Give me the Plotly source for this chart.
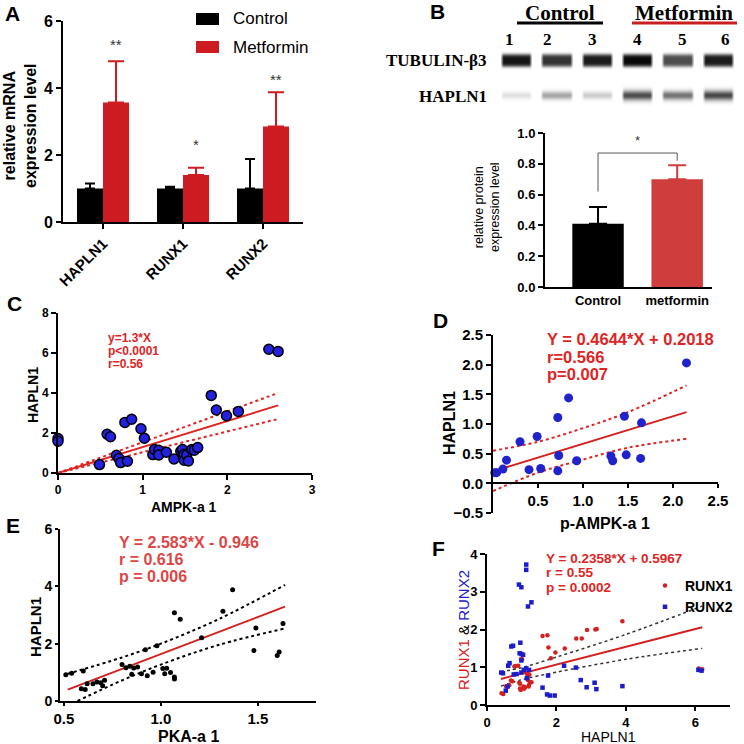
import numpy as np
import plotly.graph_objects as go

W = H = 744
SANS = "Liberation Sans"
SERIF = "Liberation Serif"

# ---- A: mRNA bars ----
genes = ["HAPLN1", "RUNX1", "RUNX2"]
mrna_ctrl = [1.0, 1.0, 1.0]
mrna_ctrl_err = [0.15, 0.05, 0.88]
mrna_met = [3.57, 1.40, 2.85]
mrna_met_err = [1.23, 0.22, 1.02]
stars_a = ["**", "*", "**"]
stars_a_y = [5.3, 2.3, 4.25]

# ---- B: blot + protein bars ----
lanes = [1, 2, 3, 4, 5, 6]
tub_int = [0.92, 0.80, 0.90, 0.97, 0.70, 0.90]
hap_int = [0.12, 0.35, 0.20, 0.70, 0.55, 0.72]
prot_groups = ["Control", "metformin"]
prot = [0.41, 0.70]
prot_err = [0.11, 0.09]

# ---- C: AMPK-a1 vs HAPLN1 ----
ampk = [0.0, 0.0, 0.49, 0.58, 0.62, 0.69, 0.72, 0.74, 0.79, 0.82, 0.87, 0.98, 1.02, 1.12, 1.14, 1.19, 1.19,
        1.28, 1.37, 1.45, 1.47, 1.49, 1.49, 1.52, 1.54, 1.58, 1.61, 1.65, 1.81, 1.87, 1.99, 2.13, 2.49, 2.60]
hapln_c = [1.72, 1.59, 0.42, 1.94, 1.81, 0.89, 0.72, 0.52, 2.53, 0.59, 2.69, 2.21, 1.74, 0.92, 1.17, 1.14, 0.90,
           1.04, 0.70, 1.09, 1.17, 0.94, 0.64, 0.90, 0.60, 1.17, 1.14, 1.27, 3.88, 3.15, 2.86, 3.08, 6.19, 6.08]
fit_c = (1.3, 0.0, 0.0, 2.6)
ci_c_x = [0.0, 2.6]
ci_c_hi = [0.0, 4.0]
ci_c_lo = [0.0, 2.7]

# ---- D: p-AMPK-a1 vs HAPLN1 ----
pampk = [0.02, 0.04, 0.11, 0.15, 0.30, 0.40, 0.49, 0.53, 0.72, 0.73, 0.72, 0.84, 0.93, 1.31, 1.33, 1.46,
         1.48, 1.64, 1.65, 2.15]
hapln_d = [0.18, 0.18, 0.24, 0.39, 0.70, 0.23, 0.79, 0.25, 1.11, 0.47, 0.21, 1.44, 0.38, 0.46, 0.38, 1.13,
           0.48, 0.42, 1.02, 2.03]
fit_d = (0.4644, 0.2018, 0.03, 2.15)
ci_d_x = [0.0, 0.5, 1.0, 1.5, 2.15]
ci_d_hi = [0.55, 0.70, 0.93, 1.20, 1.65]
ci_d_lo = [-0.13, 0.18, 0.40, 0.60, 0.75]

# ---- E: PKA-a1 vs HAPLN1 ----
pka = [0.51, 0.54, 0.60, 0.59, 0.61, 0.62, 0.65, 0.67, 0.69, 0.71, 0.70, 0.80, 0.82, 0.84, 0.86, 0.85, 0.88,
       0.90, 0.92, 0.93, 0.96, 0.98, 1.01, 1.02, 1.03, 1.05, 1.07, 1.07, 1.07, 1.10, 1.21, 1.32, 1.37, 1.48,
       1.49, 1.60, 1.61, 1.63]
hapln_e = [0.92, 0.97, 1.05, 0.43, 0.40, 0.60, 0.60, 0.66, 0.64, 0.72, 0.53, 1.27, 1.16, 1.21, 1.15, 0.93, 1.19,
           0.95, 1.79, 0.88, 1.00, 1.93, 1.13, 0.95, 1.14, 0.99, 0.84, 0.77, 3.08, 2.85, 2.21, 3.13, 3.88, 1.76,
           2.55, 1.59, 1.71, 2.70]
fit_e = (2.583, -0.946, 0.52, 1.64)
ci_e_hi_x = [0.52, 0.8, 1.0, 1.3, 1.64]
ci_e_hi = [0.95, 1.52, 2.0, 2.86, 4.05]
ci_e_lo_x = [0.57, 0.8, 1.0, 1.3, 1.64]
ci_e_lo = [0.0, 0.72, 1.27, 1.96, 2.53]

# ---- F: HAPLN1 vs RUNX1 / RUNX2 ----
hx_r = [0.42, 0.47, 0.55, 0.60, 0.64, 0.69, 0.73, 0.79, 0.82, 0.90, 0.93, 0.95, 0.97, 0.95, 0.98, 1.01, 1.05,
        1.07, 1.10, 1.14, 1.16, 1.18, 1.21, 1.20, 1.24, 1.28, 1.16, 1.22, 1.60, 1.74, 1.77, 1.84, 1.97, 2.24,
        2.57, 2.73, 2.88, 3.12, 3.16, 3.90, 6.10, 6.20]
runx1 = [0.31, 0.29, 0.50, 0.49, 0.52, 0.65, 0.63, 1.02, 1.03, 1.04, 0.59, 0.44, 0.40, 0.56, 1.21, 1.21, 0.49,
         0.43, 0.47, 0.84, 0.75, 0.66, 0.53, 0.49, 0.60, 0.60, 0.84, 0.80, 1.83, 1.85, 1.52, 1.24, 1.39, 1.50,
         1.76, 1.76, 1.99, 2.00, 2.01, 2.22, 0.97, 0.95]
hx_b = [0.41, 0.46, 0.54, 0.59, 0.61, 0.65, 0.70, 0.75, 0.77, 0.85, 0.92, 0.99, 0.96, 0.94, 0.99, 1.04, 0.99,
        0.99, 1.06, 1.13, 1.13, 1.15, 1.18, 1.28, 1.13, 1.21, 1.60, 1.73, 1.76, 1.81, 1.95, 2.22, 2.56, 2.70,
        2.87, 3.10, 3.15, 3.90, 6.09, 6.18]
runx2 = [0.86, 0.84, 0.38, 0.49, 1.04, 1.11, 1.55, 1.57, 0.81, 0.82, 3.19, 3.12, 1.65, 1.37, 1.35, 1.33, 1.18,
         0.86, 0.93, 3.72, 3.58, 0.71, 2.61, 2.72, 0.97, 0.93, 0.46, 0.28, 0.78, 0.25, 0.25, 1.04, 0.99, 0.66,
         0.47, 0.59, 0.42, 0.50, 0.93, 0.91]
fit_f = (0.2358, 0.5967, 0.4, 6.2)
ci_f_x = [0.4, 1.0, 2.0, 4.0, 6.2]
ci_f_hi = [0.88, 0.99, 1.27, 1.87, 2.62]
ci_f_lo = [0.50, 0.67, 0.87, 1.21, 1.50]

RED_A = "#cc1c22"
RED_B = "#cf3d3d"
RED_T = "#e02424"
BLUE = "#2420e0"


def dx(a, b):
    return [a / W, b / W]


def dy(top, bottom):
    return [1 - bottom / H, 1 - top / H]


def axis(domain, rng, size=13, **kw):
    d = dict(domain=domain, range=rng, showline=True, linecolor="black", linewidth=2,
             ticks="outside", ticklen=5, tickwidth=2, tickcolor="black", showgrid=False,
             zeroline=False, automargin=False,
             tickfont=dict(family=SANS, size=size, color="black", weight="bold"))
    d.update(kw)
    return d


fig = go.Figure()


def note(text, x, y, size, color="black", bold=True, anchor="center", family=SANS, angle=0):
    fig.add_annotation(text=text, x=x / W, y=1 - y / H, xref="paper", yref="paper", showarrow=False,
                       xanchor=anchor, yanchor="middle", textangle=angle, borderpad=0,
                       font=dict(family=family, size=size, color=color, weight="bold" if bold else "normal"))


def fit_line(fit, xa, ya, color, width=2):
    a, b, lo, hi = fit
    fig.add_trace(go.Scatter(x=[lo, hi], y=[a * lo + b, a * hi + b], mode="lines",
                             line=dict(color=color, width=width), xaxis=xa, yaxis=ya,
                             showlegend=False, hoverinfo="skip"))


def ci_line(xs, ys, xa, ya, color, width=2):
    fig.add_trace(go.Scatter(x=xs, y=ys, mode="lines", line=dict(color=color, width=width, dash="dot",
                             shape="spline"), xaxis=xa, yaxis=ya, showlegend=False, hoverinfo="skip"))


# A
fig.add_trace(go.Bar(x=genes, y=mrna_ctrl, name="Control", marker_color="black", marker_line_width=0,
                     error_y=dict(type="data", array=mrna_ctrl_err, arrayminus=[0] * 3, symmetric=False,
                                  color="black", thickness=2, width=5),
                     xaxis="x", yaxis="y", showlegend=False))
fig.add_trace(go.Bar(x=genes, y=mrna_met, name="Metformin", marker_color=RED_A, marker_line_width=0,
                     error_y=dict(type="data", array=mrna_met_err, arrayminus=[0] * 3, symmetric=False,
                                  color=RED_A, thickness=2, width=8),
                     xaxis="x", yaxis="y", showlegend=False))
for g, s, sy in zip(genes, stars_a, stars_a_y):
    fig.add_annotation(text=s, x=g, y=sy, xref="x", yref="y", xshift=13, showarrow=False,
                       font=dict(family=SANS, size=15, color="#333"))

# B blot
xs = np.linspace(0.5, 6.5, 241)
ys = np.linspace(48, 106, 59)
X, Y = np.meshgrid(xs, ys)
z = np.zeros_like(X)
for ln, t, h in zip(lanes, tub_int, hap_int):
    col = np.clip((0.40 - np.abs(X - ln)) / 0.08, 0, 1)
    z += t * col * np.exp(-((Y - 60) / 6.5) ** 4)
    z += h * col * np.exp(-((Y - 95) / (3.2 + 2.5 * h)) ** 2)
fig.add_trace(go.Heatmap(x=xs, y=ys, z=z, colorscale=[[0, "#ffffff"], [1, "#000000"]], zmin=0, zmax=1,
                         showscale=False, hoverinfo="skip", zsmooth="best", xaxis="x2", yaxis="y2"))

# B bars
for g, v, e, c in zip(prot_groups, prot, prot_err, ["black", RED_B]):
    fig.add_trace(go.Bar(x=[g], y=[v], marker_color=c, marker_line_width=0, offsetgroup="b",
                         error_y=dict(type="data", array=[e], arrayminus=[0], symmetric=False, color=c,
                                      thickness=2, width=9),
                         xaxis="x3", yaxis="y3", showlegend=False))
fig.add_trace(go.Scatter(x=[prot_groups[0], prot_groups[0], prot_groups[1], prot_groups[1]],
                         y=[0.62, 0.87, 0.87, 0.82], mode="lines", line=dict(color="#555", width=1),
                         xaxis="x3", yaxis="y3", showlegend=False, hoverinfo="skip"))
fig.add_annotation(text="*", x=0.5, y=0.95, xref="x3", yref="y3", showarrow=False,
                   font=dict(family=SANS, size=13, color="#333"))

# C
ci_line(ci_c_x, ci_c_hi, "x4", "y4", RED_T)
ci_line(ci_c_x, ci_c_lo, "x4", "y4", RED_T)
fit_line(fit_c, "x4", "y4", RED_T)
fig.add_trace(go.Scatter(x=ampk, y=hapln_c, mode="markers", cliponaxis=False,
                         marker=dict(size=10, color=BLUE, line=dict(color="black", width=1.5)),
                         xaxis="x4", yaxis="y4", showlegend=False))

# D
ci_line(ci_d_x, ci_d_hi, "x5", "y5", RED_T)
ci_line(ci_d_x, ci_d_lo, "x5", "y5", RED_T)
fit_line(fit_d, "x5", "y5", "#d42020")
fig.add_trace(go.Scatter(x=pampk, y=hapln_d, mode="markers", cliponaxis=False,
                         marker=dict(size=9, color="#2222cc"), xaxis="x5", yaxis="y5", showlegend=False))

# E
ci_line(ci_e_hi_x, ci_e_hi, "x6", "y6", "black")
ci_line(ci_e_lo_x, ci_e_lo, "x6", "y6", "black")
fit_line(fit_e, "x6", "y6", "#d42020")
fig.add_trace(go.Scatter(x=pka, y=hapln_e, mode="markers", marker=dict(size=5, color="black"),
                         xaxis="x6", yaxis="y6", showlegend=False))

# F
ci_line(ci_f_x, ci_f_hi, "x7", "y7", "#333", 1.5)
ci_line(ci_f_x, ci_f_lo, "x7", "y7", "#333", 1.5)
fit_line(fit_f, "x7", "y7", "#d42020")
fig.add_trace(go.Scatter(x=hx_r, y=runx1, mode="markers", name="RUNX1",
                         marker=dict(size=4.5, color="#d42020", symbol="circle"),
                         xaxis="x7", yaxis="y7", legend="legend2"))
fig.add_trace(go.Scatter(x=hx_b, y=runx2, mode="markers", name="RUNX2",
                         marker=dict(size=4.5, color="#1c1ccc", symbol="square"),
                         xaxis="x7", yaxis="y7", legend="legend2"))

fig.update_layout(
    width=W, height=H, margin=dict(l=0, r=0, t=0, b=0, autoexpand=False),
    paper_bgcolor="white", plot_bgcolor="white",
    barmode="group", bargap=0.35, bargroupgap=0,
    xaxis=axis(dx(63, 303), [-0.5, 2.5], 15, tickangle=-45, anchor="y"),
    yaxis=axis(dy(21, 222), [0, 6], 16, tickvals=[0, 2, 4, 6], anchor="x"),
    xaxis2=dict(domain=dx(496, 738), range=[0.5, 6.5], visible=False, anchor="y2"),
    yaxis2=dict(domain=dy(48, 106), range=[106, 48], visible=False, anchor="x2"),
    xaxis3=axis(dx(545, 712), [-0.67, 1.44], 13, anchor="y3", ticks="", ticklen=0),
    yaxis3=axis(dy(133, 287), [0, 1.0], 13, tickvals=[0, 0.2, 0.4, 0.6, 0.8, 1.0], tickformat=".1f",
                anchor="x3"),
    xaxis4=axis(dx(58, 312), [0, 3], 12, tickvals=[0, 1, 2, 3], anchor="y4"),
    yaxis4=axis(dy(313, 473), [0, 8], 12, tickvals=[0, 2, 4, 6, 8], anchor="x4"),
    xaxis5=axis(dx(493, 718), [0, 2.5], 15, tickvals=[0.5, 1.0, 1.5, 2.0, 2.5], tickformat=".1f",
                anchor="free", position=1 - 483 / H, ticklen=4),
    yaxis5=axis(dy(335, 513), [-0.5, 2.5], 15, tickvals=[-0.5, 0, 0.5, 1.0, 1.5, 2.0, 2.5],
                tickformat=".1f", anchor="x5"),
    xaxis6=axis(dx(60, 316), [0.48, 1.8], 15, tickvals=[0.5, 1.0, 1.5], tickformat=".1f", anchor="y6",
                ticklen=3),
    yaxis6=axis(dy(529, 701), [0, 6], 14, tickvals=[0, 2, 4, 6], anchor="x6", ticklen=3),
    xaxis7=axis(dx(487, 730), [0, 7], 13, tickvals=[0, 2, 4, 6], anchor="y7", ticklen=4),
    yaxis7=axis(dy(554, 705), [0, 4], 13, tickvals=[0, 1, 2, 3, 4], anchor="x7"),
    showlegend=True,
    legend2=dict(x=645 / W, y=1 - 570 / H, xanchor="left", yanchor="top", bgcolor="rgba(0,0,0,0)",
                 font=dict(family=SANS, size=14, color="black", weight="bold"), itemsizing="trace",
                 tracegroupgap=0),
)

# panel letters
for t, x, y in [("A", 12, 14), ("B", 437, 12), ("C", 14, 303), ("D", 440, 321), ("E", 13, 525), ("F", 438, 548)]:
    note(t, x, y, 21)

# A legend + titles
fig.add_shape(type="rect", xref="paper", yref="paper", x0=196 / W, x1=219 / W, y0=1 - 25 / H, y1=1 - 13 / H,
              fillcolor="black", line_width=0)
fig.add_shape(type="rect", xref="paper", yref="paper", x0=196 / W, x1=219 / W, y0=1 - 53 / H, y1=1 - 41 / H,
              fillcolor=RED_A, line_width=0)
note("Control", 232, 19, 17, bold=False, anchor="left")
note("Metformin", 232, 47, 17, bold=False, anchor="left")
note("relative mRNA<br>expression level", 20, 126, 16, angle=-90)

# B texts
note("Control", 560, 13, 21, family=SERIF)
note("Metformin", 684, 13, 21, family=SERIF)
fig.add_shape(type="line", xref="paper", yref="paper", x0=517 / W, x1=603 / W, y0=1 - 23 / H, y1=1 - 23 / H,
              line=dict(color="black", width=3))
fig.add_shape(type="line", xref="paper", yref="paper", x0=632 / W, x1=737 / W, y0=1 - 23 / H, y1=1 - 23 / H,
              line=dict(color="#c81e1e", width=3))
for ln, lx in zip(lanes, [510, 547, 592, 637, 682, 725]):
    note(str(ln), lx, 40, 17, family=SERIF)
note("TUBULIN-β3", 488, 60, 17, family=SERIF, anchor="right")
note("HAPLN1", 488, 96, 17, family=SERIF, anchor="right")
note("relative protein<br>expression level", 487, 207, 12.5, bold=False, angle=-90)

# C texts
note("HAPLN1", 33, 395, 14, angle=-90)
note("AMPK-a 1", 184, 507, 14)
for t, y in [("y=1.3*X", 338), ("p<0.0001", 351), ("r=0.56", 364)]:
    note(t, 107, y, 12, color=RED_T, anchor="left")

# D texts
note("HAPLN1", 449, 423, 16, angle=-90)
note("p-AMPK-a 1", 605, 523, 16)
for t, y in [("Y = 0.4644*X + 0.2018", 339), ("r=0.566", 357), ("p=0.007", 374)]:
    note(t, 546, y, 16.5, color=RED_T, anchor="left")

# E texts
note("HAPLN1", 35, 627, 15, angle=-90)
note("PKA-a 1", 188, 736, 16)
for t, y in [("Y = 2.583*X - 0.946", 542), ("r = 0.616", 559), ("p = 0.006", 576)]:
    note(t, 118, y, 16, color="#e04545", anchor="left")

# F texts
note("<span style='color:#d42020'>RUNX1</span> & <span style='color:#2020cc'>RUNX2</span>", 463, 630, 15,
     bold=False, angle=-90)
note("HAPLN1", 608, 737, 14, bold=False)
for t, y in [("Y = 0.2358*X + 0.5967", 558), ("r = 0.55", 572.5), ("p = 0.0002", 587)]:
    note(t, 545, y, 13.5, color=RED_T, anchor="left")

fig.write_html("out.html", config={"displayModeBar": False},
               post_script="document.body.style.margin='0';")
